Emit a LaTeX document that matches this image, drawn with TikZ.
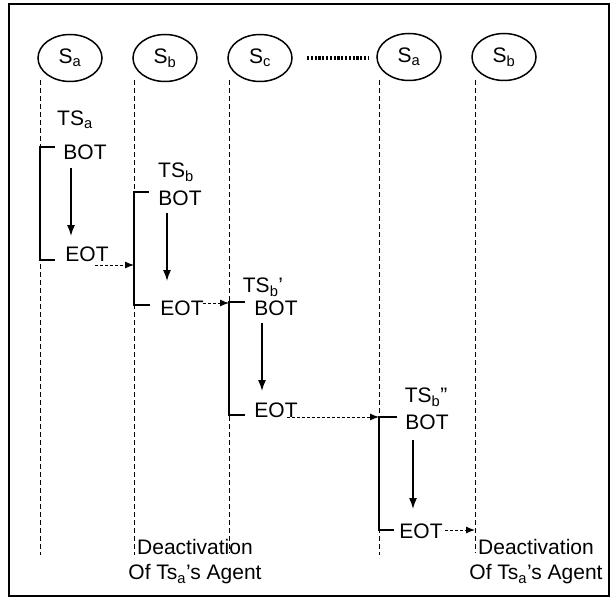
\documentclass[tikz,border=0pt]{standalone}
\usepackage{fontspec}
\setmainfont{Liberation Sans}
\usetikzlibrary{shapes.geometric,arrows.meta}
\begin{document}
\begin{tikzpicture}[x=1bp,y=-1bp,
  every node/.style={font=\fontsize{21bp}{25bp}\selectfont, inner sep=0pt},
  site/.style={ellipse, draw, line width=1.5bp, minimum width=64bp, minimum height=47bp},
  life/.style={line width=1bp, dash pattern=on 5bp off 3bp},
  brk/.style={line width=1.9bp},
  downarr/.style={line width=1.4bp, -{Latex[length=11bp,width=8bp]}},
  darr/.style={line width=1bp, dash pattern=on 3bp off 2bp, -{Latex[length=9bp,width=7bp]}},
  lbl/.style={anchor=center}
]
\useasboundingbox (0,0) rectangle (614,601);
\draw[line width=1.8bp] (9,4) rectangle (609,596);

% sites
\node[site] (sa1) at (70,58) {S\textsubscript{a}};
\node[site] (sb1) at (165,58) {S\textsubscript{b}};
\node[site] (sc1) at (260,58) {S\textsubscript{c}};
\node[site] (sa2) at (409,57) {S\textsubscript{a}};
\node[site] (sb2) at (504,57) {S\textsubscript{b}};
\coordinate (dots1) at (307,58); \coordinate (dots2) at (368,58);
\draw[line width=3.5bp, dash pattern=on 2.2bp off 1.6bp] (dots1) -- (dots2);

% lifelines
\coordinate (l1t) at (40,80);  \coordinate (l1b) at (40,555);
\coordinate (l2t) at (134,80); \coordinate (l2b) at (134,555);
\coordinate (l3t) at (229,80); \coordinate (l3b) at (229,553);
\coordinate (l4t) at (379,80); \coordinate (l4b) at (379,555);
\coordinate (l5t) at (475,80); \coordinate (l5b) at (475,553);
\foreach \i in {1,...,5} {\draw[life] (l\i t) -- (l\i b);}

% transaction a
\node[lbl] (tsa) at (75,120) {TS\textsubscript{a}};
\node[lbl] (bota) at (85,152) {BOT};
\node[lbl] (eota) at (87,254) {EOT};
\coordinate (ka1) at (55,147); \coordinate (ka2) at (55,260);
\draw[brk] (ka1) -- (ka1 -| l1t) -- (ka2 -| l1t) -- (ka2);
\coordinate (aa1) at (71,168); \coordinate (aa2) at (71,236);
\draw[downarr] (aa1) -- (aa2);
\coordinate (da1) at (95,265);
\draw[darr] (da1) -- (da1 -| l2t);

% transaction b
\node[lbl] (tsb) at (176,172) {TS\textsubscript{b}};
\node[lbl] (botb) at (180,198) {BOT};
\node[lbl] (eotb) at (182,308) {EOT};
\coordinate (kb1) at (149,192); \coordinate (kb2) at (150,305);
\draw[brk] (kb1) -- (kb1 -| l2t) -- (kb2 -| l2t) -- (kb2);
\coordinate (ab1) at (167,213); \coordinate (ab2) at (167,281);
\draw[downarr] (ab1) -- (ab2);
\coordinate (db1) at (203,303);
\draw[darr] (db1) -- (db1 -| l3t);

% transaction b'
\node[lbl] (tsc) at (263,287) {TS\textsubscript{b}'};
\node[lbl] (botc) at (276,308) {BOT};
\node[lbl] (eotc) at (276,410) {EOT};
\coordinate (kc1) at (245,302); \coordinate (kc2) at (245,415);
\draw[brk] (kc1) -- (kc1 -| l3t) -- (kc2 -| l3t) -- (kc2);
\coordinate (ac1) at (262,323); \coordinate (ac2) at (262,391);
\draw[downarr] (ac1) -- (ac2);
\coordinate (dc1) at (287,417);
\draw[darr] (dc1) -- (dc1 -| l4t);

% transaction b''
\node[lbl] (tsd) at (426,397) {TS\textsubscript{b}''};
\node[lbl] (botd) at (427,422) {BOT};
\node[lbl] (eotd) at (421,531) {EOT};
\coordinate (kd1) at (397,417); \coordinate (kd2) at (394,530);
\draw[brk] (kd1) -- (kd1 -| l4t) -- (kd2 -| l4t) -- (kd2);
\coordinate (ad1) at (413,440); \coordinate (ad2) at (413,509);
\draw[downarr] (ad1) -- (ad2);
\coordinate (dd1) at (445,530);
\draw[darr] (dd1) -- (dd1 -| l5t);

% deactivation
\node[lbl, align=center] (deact1) at (195,562) {Deactivation\\Of Ts\textsubscript{a}'s Agent};
\node[lbl, align=center] (deact2) at (536,562) {Deactivation\\Of Ts\textsubscript{a}'s Agent};
\end{tikzpicture}
\end{document}
